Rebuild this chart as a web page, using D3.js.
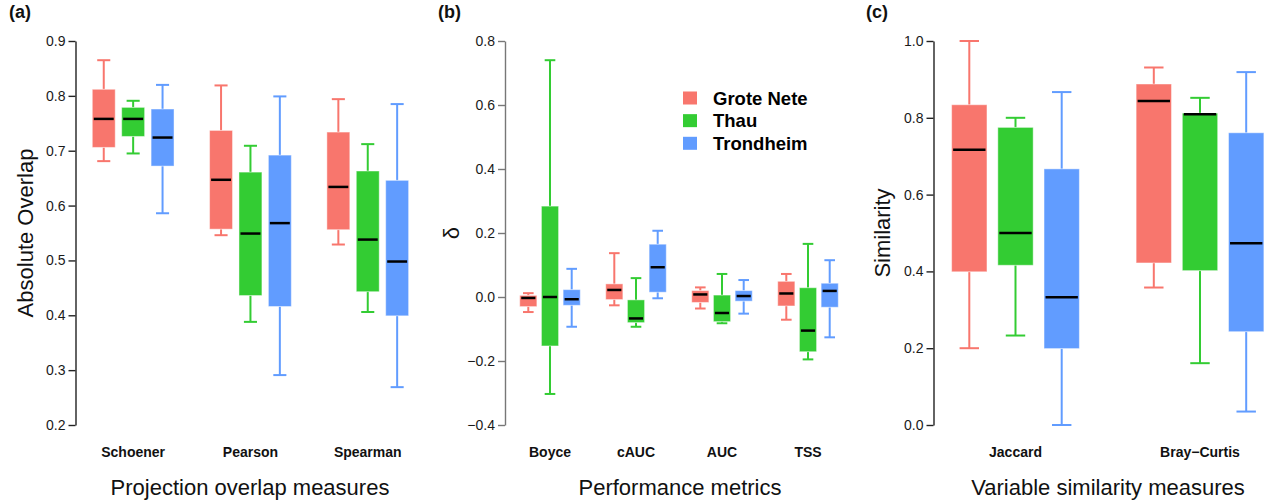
<!DOCTYPE html>
<html>
<head>
<meta charset="utf-8">
<script src="https://cdn.jsdelivr.net/npm/d3@7"></script>
<style>
  html, body { margin: 0; padding: 0; background: #fff; }
  svg { display: block; font-family: "Liberation Sans", Arial, Helvetica, sans-serif; }
</style>
</head>
<body>
<svg id="chart" width="1266" height="502"></svg>
<script>
// ---------- DATA ----------
const sites = ["Grote Nete", "Thau", "Trondheim"];
const siteColors = ["#F8766D", "#33CC33", "#619CFF"];

// Panel (a): projection overlap measures  [lower whisker, Q1, median, Q3, upper whisker]
const overlapCategories = ["Schoener", "Pearson", "Spearman"];
const overlapGroteNete = [[0.681, 0.706, 0.758, 0.812, 0.865], [0.546, 0.557, 0.647, 0.737, 0.819], [0.529, 0.556, 0.634, 0.734, 0.794]];
const overlapThau      = [[0.695, 0.726, 0.758, 0.779, 0.791], [0.388, 0.436, 0.549, 0.661, 0.709], [0.406, 0.443, 0.538, 0.663, 0.712]];
const overlapTrondheim = [[0.586, 0.672, 0.724, 0.776, 0.820], [0.291, 0.416, 0.568, 0.692, 0.799], [0.269, 0.399, 0.498, 0.646, 0.785]];
const overlapTicks = [0.2, 0.3, 0.4, 0.5, 0.6, 0.7, 0.8, 0.9];

// Panel (b): performance metrics (delta)
const perfCategories = ["Boyce", "cAUC", "AUC", "TSS"];
const perfGroteNete = [[-0.047, -0.030, -0.003, 0.005, 0.012], [-0.026, -0.008, 0.022, 0.041, 0.137], [-0.036, -0.017, 0.008, 0.020, 0.030], [-0.071, -0.028, 0.011, 0.049, 0.072]];
const perfThau      = [[-0.303, -0.153, 0.000, 0.284, 0.740], [-0.093, -0.080, -0.067, -0.009, 0.059], [-0.082, -0.077, -0.050, 0.006, 0.072], [-0.195, -0.171, -0.105, 0.029, 0.166]];
const perfTrondheim = [[-0.093, -0.026, -0.007, 0.023, 0.088], [-0.004, 0.015, 0.093, 0.165, 0.207], [-0.052, -0.013, 0.003, 0.020, 0.053], [-0.126, -0.032, 0.019, 0.043, 0.115]];
const perfTicks = [-0.4, -0.2, 0.0, 0.2, 0.4, 0.6, 0.8];

// Panel (c): variable similarity measures
const simCategories = ["Jaccard", "Bray\u2212Curtis"];
const simGroteNete = [[0.200, 0.399, 0.717, 0.834, 1.000], [0.358, 0.422, 0.844, 0.888, 0.931]];
const simThau      = [[0.233, 0.416, 0.500, 0.775, 0.800], [0.161, 0.402, 0.809, 0.812, 0.852]];
const simTrondheim = [[0.000, 0.199, 0.333, 0.667, 0.867], [0.035, 0.243, 0.473, 0.761, 0.919]];
const simTicks = [0.0, 0.2, 0.4, 0.6, 0.8, 1.0];

// ---------- DRAWING ----------
const svg = d3.select("#chart");
const FONT = '"Liberation Sans", Arial, Helvetica, sans-serif';

function drawPanel(cfg) {
  const g = svg.append("g");
  const y = d3.scaleLinear().domain(cfg.yDomain).range([425, 41]);
  const x0 = d3.scaleBand().domain(cfg.categories).range(cfg.xRange).padding(0);
  const step = cfg.innerStep;
  const x1 = d3.scaleBand().domain(sites).range([-1.5 * step, 1.5 * step]).padding(0);
  const boxW = x1.bandwidth() * cfg.boxFrac;
  const capW = boxW * cfg.capFrac;

  // axis
  const axis = d3.axisLeft(y).tickValues(cfg.ticks).tickSize(7).tickSizeOuter(0).tickPadding(3)
    .tickFormat(cfg.fmt);
  const ag = g.append("g").attr("transform", `translate(${cfg.axisX},0)`).call(axis);
  ag.select(".domain").attr("stroke", cfg.axisColor).attr("stroke-width", 1.4);
  ag.selectAll(".tick line").attr("stroke", cfg.axisColor).attr("stroke-width", 1.4);
  ag.selectAll(".tick text").attr("fill", "#1a1a1a").style("font-size", "14px").style("font-family", FONT);

  const seriesList = cfg.series;
  cfg.categories.forEach((cat, ci) => {
    sites.forEach((site, si) => {
      const s = seriesList[si][ci];
      const cx = x0(cat) + x0.bandwidth() / 2 + x1(site) + x1.bandwidth() / 2;
      const col = siteColors[si];
      const bg = g.append("g");
      // whiskers
      bg.append("line").attr("x1", cx).attr("x2", cx).attr("y1", y(s[4])).attr("y2", y(s[3]))
        .attr("stroke", col).attr("stroke-width", 2);
      bg.append("line").attr("x1", cx).attr("x2", cx).attr("y1", y(s[1])).attr("y2", y(s[0]))
        .attr("stroke", col).attr("stroke-width", 2);
      bg.append("line").attr("x1", cx - capW / 2).attr("x2", cx + capW / 2).attr("y1", y(s[4])).attr("y2", y(s[4]))
        .attr("stroke", col).attr("stroke-width", 2);
      bg.append("line").attr("x1", cx - capW / 2).attr("x2", cx + capW / 2).attr("y1", y(s[0])).attr("y2", y(s[0]))
        .attr("stroke", col).attr("stroke-width", 2);
      // box
      bg.append("rect").attr("x", cx - boxW / 2).attr("width", boxW)
        .attr("y", y(s[3])).attr("height", Math.max(0.5, y(s[1]) - y(s[3])))
        .attr("fill", col).attr("stroke", "rgba(255,255,255,0.45)").attr("stroke-width", 1);
      // median
      bg.append("line").attr("x1", cx - boxW / 2 + 1.5).attr("x2", cx + boxW / 2 - 1.5)
        .attr("y1", y(s[2])).attr("y2", y(s[2])).attr("stroke", "#000").attr("stroke-width", 2.5);
    });
    // category label
    g.append("text").attr("x", x0(cat) + x0.bandwidth() / 2).attr("y", 457)
      .attr("text-anchor", "middle").style("font-size", "14px").style("font-weight", "bold")
      .attr("fill", "#111").text(cat);
  });

  // x title
  g.append("text").attr("x", cfg.xTitleX).attr("y", 495).attr("text-anchor", "middle")
    .style("font-size", "22px").attr("fill", "#111").text(cfg.xTitle);
  // y title
  g.append("text").attr("transform", `translate(${cfg.yTitleX},233) rotate(-90)`)
    .attr("text-anchor", "middle").style("font-size", "22px").attr("fill", "#111").text(cfg.yTitle);
  // panel label
  g.append("text").attr("x", cfg.labelX).attr("y", 18).style("font-size", "18px")
    .style("font-weight", "bold").attr("fill", "#111").text(cfg.label);
}

const fmt1 = d3.format(".1f");
const fmtMinus = v => fmt1(v).replace("-", "\u2212");

drawPanel({
  categories: overlapCategories, series: [overlapGroteNete, overlapThau, overlapTrondheim],
  yDomain: [0.2, 0.9], ticks: overlapTicks, fmt: fmt1, axisX: 75.5, axisColor: "#222",
  xRange: [74.5, 426.4], innerStep: 29.4, boxFrac: 0.78, capFrac: 0.57,
  xTitle: "Projection overlap measures", xTitleX: 250, yTitle: "Absolute Overlap", yTitleX: 33,
  label: "(a)", labelX: 9
});

drawPanel({
  categories: perfCategories, series: [perfGroteNete, perfThau, perfTrondheim],
  yDomain: [-0.4, 0.8], ticks: perfTicks, fmt: fmtMinus, axisX: 505, axisColor: "#777",
  xRange: [507, 851], innerStep: 21.7, boxFrac: 0.79, capFrac: 0.62,
  xTitle: "Performance metrics", xTitleX: 680, yTitle: "\u03B4", yTitleX: 459,
  label: "(b)", labelX: 438
});

drawPanel({
  categories: simCategories, series: [simGroteNete, simThau, simTrondheim],
  yDomain: [0, 1], ticks: simTicks, fmt: fmt1, axisX: 933.5, axisColor: "#222",
  xRange: [923.25, 1292.25], innerStep: 46.2, boxFrac: 0.765, capFrac: 0.55,
  xTitle: "Variable similarity measures", xTitleX: 1108, yTitle: "Similarity", yTitleX: 890,
  label: "(c)", labelX: 866
});

// legend in panel (b)
const leg = svg.append("g").attr("transform", "translate(683,0)");
const legY = d3.scalePoint().domain(sites).range([98, 143.3]);
sites.forEach((s, i) => {
  leg.append("rect").attr("x", 0).attr("y", legY(s) - 6.5).attr("width", 14).attr("height", 13)
    .attr("fill", siteColors[i]);
  leg.append("text").attr("x", 30).attr("y", legY(s) + 6.5).style("font-size", "18.5px")
    .style("font-weight", "bold").attr("fill", "#000").text(s);
});
</script>
</body>
</html>
